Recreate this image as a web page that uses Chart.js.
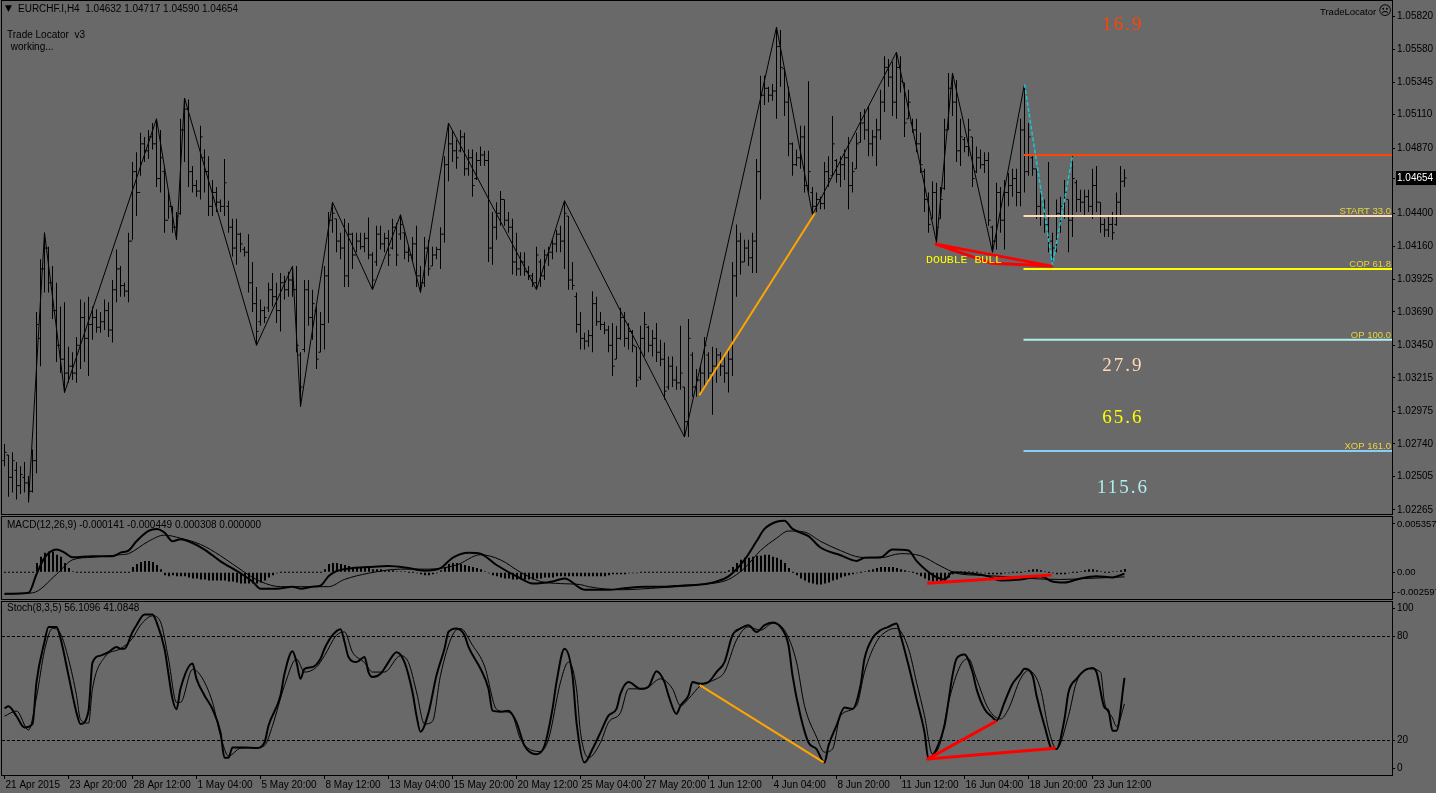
<!DOCTYPE html>
<html>
<head>
<meta charset="utf-8">
<title>EURCHF.I,H4</title>
<script src="https://cdn.jsdelivr.net/npm/chart.js@4.4.1/dist/chart.umd.min.js"></script>
<style>
    html, body { margin: 0; padding: 0; background: #696969; overflow: hidden; }
    #wrap { position: relative; width: 1436px; height: 793px; }
    canvas { position: absolute; left: 0; }
    #main { top: 0; }
    #macd { top: 515px; }
    #stoch { top: 600px; }
</style>
</head>
<body>
<div id="wrap">
    <canvas id="main" width="1436" height="516"></canvas>
    <canvas id="macd" width="1436" height="85"></canvas>
    <canvas id="stoch" width="1436" height="193"></canvas>
</div>
<script>
const symbol = 'EURCHF.I,H4';

const timeLabels = ['21 Apr 2015', '23 Apr 20:00', '28 Apr 12:00', '1 May 04:00', '5 May 20:00', '8 May 12:00',
    '13 May 04:00', '15 May 20:00', '20 May 12:00', '25 May 04:00', '27 May 20:00', '1 Jun 12:00',
    '4 Jun 04:00', '8 Jun 20:00', '11 Jun 12:00', '16 Jun 04:00', '18 Jun 20:00', '23 Jun 12:00'];
const timeLabelBars = [0, 16, 32, 48, 64, 80, 96, 112, 128, 144, 160, 176, 192, 208, 224, 240, 256, 272];

const barOpen = [1.0262,1.0266,1.0250,1.0255,1.0244,1.0250,1.0246,1.0240,1.0262,1.0350,
1.0400,1.0415,1.0390,1.0370,1.0345,1.0335,1.0325,1.0330,1.0325,1.0345,
1.0365,1.0350,1.0360,1.0365,1.0358,1.0362,1.0370,1.0356,1.0385,1.0400,
1.0388,1.0384,1.0420,1.0470,1.0455,1.0490,1.0485,1.0495,1.0490,1.0465,
1.0470,1.0435,1.0445,1.0430,1.0440,1.0500,1.0515,1.0470,1.0460,1.0456,
1.0480,1.0470,1.0445,1.0455,1.0448,1.0445,1.0445,1.0430,1.0415,1.0425,
1.0414,1.0412,1.0390,1.0375,1.0362,1.0370,1.0372,1.0385,1.0380,1.0370,
1.0390,1.0385,1.0392,1.0385,1.0338,1.0342,1.0385,1.0365,1.0370,1.0340,
1.0360,1.0395,1.0435,1.0436,1.0420,1.0415,1.0395,1.0425,1.0410,1.0420,
1.0416,1.0422,1.0410,1.0405,1.0425,1.0418,1.0422,1.0415,1.0430,1.0425,
1.0426,1.0412,1.0410,1.0418,1.0395,1.0390,1.0415,1.0402,1.0410,1.0414,
1.0425,1.0475,1.0490,1.0485,1.0485,1.0495,1.0472,1.0480,1.0465,1.0478,
1.0482,1.0478,1.0415,1.0430,1.0440,1.0450,1.0435,1.0430,1.0405,1.0400,
1.0405,1.0398,1.0395,1.0390,1.0405,1.0395,1.0410,1.0412,1.0418,1.0425,
1.0420,1.0438,1.0392,1.0380,1.0360,1.0350,1.0348,1.0352,1.0375,1.0362,
1.0360,1.0356,1.0345,1.0335,1.0350,1.0365,1.0350,1.0355,1.0344,1.0322,
1.0350,1.0358,1.0345,1.0350,1.0340,1.0335,1.0315,1.0330,1.0320,1.0318,
1.0315,1.0290,1.0338,1.0315,1.0320,1.0325,1.0338,1.0325,1.0330,1.0338,
1.0330,1.0325,1.0335,1.0395,1.0420,1.0405,1.0415,1.0408,1.0420,1.0470,
1.0525,1.0530,1.0525,1.0528,1.0560,1.0544,1.0520,1.0490,1.0475,1.0480,
1.0495,1.0460,1.0455,1.0445,1.0450,1.0447,1.0470,1.0467,1.0478,1.0468,
1.0475,1.0480,1.0460,1.0472,1.0491,1.0505,1.0500,1.0490,1.0495,1.0500,
1.0520,1.0545,1.0538,1.0520,1.0545,1.0534,1.0508,1.0505,1.0500,1.0490,
1.0470,1.0450,1.0436,1.0455,1.0436,1.0458,1.0500,1.0530,1.0520,1.0485,
1.0493,1.0488,1.0495,1.0470,1.0480,1.0475,1.0478,1.0430,1.0420,1.0455,
1.0435,1.0455,1.0460,1.0465,1.0455,1.0500,1.0470,1.0480,1.0472,1.0445,
1.0438,1.0432,1.0420,1.0415,1.0440,1.0445,1.0450,1.0435,1.0462,1.0450,
1.0448,1.0452,1.0445,1.0460,1.0448,1.0432,1.0428,1.0432,1.0432,1.0448,
1.04632];

const barHigh = [1.0274,1.0266,1.0268,1.0261,1.0258,1.0261,1.0251,1.0270,1.0369,1.0407,
1.0426,1.0416,1.0402,1.0390,1.0373,1.0376,1.0344,1.0340,1.0351,1.0378,
1.0376,1.0380,1.0373,1.0371,1.0369,1.0378,1.0376,1.0392,1.0414,1.0402,
1.0390,1.0426,1.0477,1.0484,1.0498,1.0495,1.0500,1.0505,1.0508,1.0500,
1.0474,1.0455,1.0445,1.0441,1.0508,1.0523,1.0522,1.0474,1.0464,1.0503,
1.0486,1.0481,1.0464,1.0459,1.0450,1.0479,1.0449,1.0436,1.0436,1.0426,
1.0416,1.0425,1.0405,1.0387,1.0378,1.0373,1.0390,1.0397,1.0390,1.0397,
1.0395,1.0398,1.0402,1.0402,1.0340,1.0392,1.0392,1.0385,1.0373,1.0369,
1.0402,1.0441,1.0448,1.0436,1.0426,1.0436,1.0433,1.0426,1.0426,1.0426,
1.0426,1.0437,1.0412,1.0431,1.0431,1.0426,1.0428,1.0436,1.0433,1.0439,
1.0426,1.0416,1.0423,1.0431,1.0402,1.0423,1.0421,1.0416,1.0416,1.0430,
1.0481,1.0505,1.0500,1.0493,1.0500,1.0498,1.0486,1.0486,1.0484,1.0488,
1.0485,1.0485,1.0441,1.0448,1.0456,1.0450,1.0441,1.0436,1.0426,1.0412,
1.0412,1.0402,1.0397,1.0416,1.0407,1.0414,1.0416,1.0421,1.0428,1.0431,
1.0449,1.0438,1.0405,1.0383,1.0369,1.0354,1.0356,1.0384,1.0380,1.0369,
1.0362,1.0359,1.0361,1.0359,1.0372,1.0369,1.0361,1.0356,1.0344,1.0359,
1.0369,1.0359,1.0356,1.0361,1.0349,1.0347,1.0337,1.0337,1.0330,1.0359,
1.0315,1.0364,1.0340,1.0328,1.0330,1.0351,1.0340,1.0344,1.0343,1.0340,
1.0337,1.0342,1.0405,1.0432,1.0426,1.0421,1.0421,1.0426,1.0479,1.0539,
1.0539,1.0531,1.0533,1.0574,1.0572,1.0544,1.0531,1.0491,1.0486,1.0503,
1.0503,1.0535,1.0459,1.0455,1.0452,1.0477,1.0481,1.0510,1.0479,1.0481,
1.0486,1.0495,1.0477,1.0498,1.0513,1.0515,1.0517,1.0500,1.0508,1.0529,
1.0553,1.0551,1.0549,1.0556,1.0553,1.0534,1.0529,1.0508,1.0508,1.0498,
1.0472,1.0455,1.0463,1.0462,1.0459,1.0508,1.0541,1.0541,1.0536,1.0508,
1.0495,1.0508,1.0495,1.0488,1.0486,1.0484,1.0484,1.0431,1.0462,1.0459,
1.0464,1.0469,1.0472,1.0472,1.0508,1.0533,1.0505,1.0481,1.0472,1.0455,
1.0450,1.0477,1.0426,1.0450,1.0452,1.0464,1.0450,1.0481,1.0464,1.0457,
1.0457,1.0457,1.0472,1.0474,1.0448,1.0436,1.0438,1.0441,1.0455,1.0474,
1.04717];

const barLow = [1.0258,1.0236,1.0239,1.0234,1.0238,1.0239,1.0232,1.0239,1.0253,1.0330,
1.0383,1.0383,1.0364,1.0333,1.0325,1.0311,1.0318,1.0320,1.0318,1.0328,
1.0333,1.0323,1.0349,1.0354,1.0354,1.0356,1.0351,1.0347,1.0376,1.0380,
1.0380,1.0376,1.0421,1.0438,1.0467,1.0477,1.0479,1.0486,1.0459,1.0455,
1.0426,1.0436,1.0426,1.0421,1.0439,1.0477,1.0459,1.0455,1.0452,1.0450,
1.0455,1.0438,1.0438,1.0441,1.0441,1.0438,1.0426,1.0409,1.0403,1.0412,
1.0409,1.0383,1.0369,1.0345,1.0359,1.0361,1.0369,1.0373,1.0361,1.0355,
1.0378,1.0380,1.0380,1.0340,1.0301,1.0340,1.0359,1.0349,1.0328,1.0340,
1.0342,1.0361,1.0426,1.0412,1.0407,1.0387,1.0387,1.0400,1.0412,1.0414,
1.0412,1.0407,1.0385,1.0402,1.0414,1.0412,1.0402,1.0414,1.0402,1.0421,
1.0407,1.0405,1.0405,1.0387,1.0383,1.0387,1.0395,1.0402,1.0407,1.0400,
1.0419,1.0463,1.0477,1.0472,1.0484,1.0467,1.0467,1.0452,1.0464,1.0474,
1.0474,1.0405,1.0403,1.0421,1.0431,1.0431,1.0426,1.0396,1.0395,1.0395,
1.0395,1.0392,1.0387,1.0385,1.0387,1.0392,1.0402,1.0407,1.0412,1.0412,
1.0400,1.0385,1.0385,1.0354,1.0342,1.0342,1.0344,1.0340,1.0359,1.0356,
1.0353,1.0340,1.0323,1.0335,1.0349,1.0344,1.0342,1.0340,1.0315,1.0320,
1.0337,1.0340,1.0337,1.0333,1.0330,1.0306,1.0313,1.0315,1.0313,1.0313,
1.0279,1.0279,1.0308,1.0308,1.0311,1.0315,1.0318,1.0295,1.0318,1.0323,
1.0318,1.0311,1.0323,1.0380,1.0396,1.0405,1.0402,1.0397,1.0397,1.0450,
1.0518,1.0520,1.0521,1.0508,1.0531,1.0510,1.0481,1.0467,1.0474,1.0472,
1.0455,1.0455,1.0439,1.0441,1.0443,1.0443,1.0459,1.0467,1.0462,1.0459,
1.0464,1.0443,1.0455,1.0472,1.0491,1.0493,1.0481,1.0481,1.0474,1.0493,
1.0513,1.0531,1.0510,1.0508,1.0527,1.0495,1.0508,1.0498,1.0484,1.0469,
1.0441,1.0426,1.0436,1.0419,1.0436,1.0457,1.0500,1.0510,1.0477,1.0474,
1.0484,1.0481,1.0459,1.0469,1.0472,1.0469,1.0431,1.0412,1.0414,1.0426,
1.0414,1.0445,1.0452,1.0445,1.0445,1.0455,1.0467,1.0467,1.0436,1.0431,
1.0426,1.0412,1.0403,1.0412,1.0426,1.0436,1.0412,1.0423,1.0441,1.0441,
1.0438,1.0441,1.0436,1.0441,1.0426,1.0423,1.0423,1.0421,1.0431,1.0438,
1.04590];

const barClose = [1.0268,1.0250,1.0262,1.0244,1.0252,1.0246,1.0240,1.0262,1.0360,1.0400,
1.0415,1.0390,1.0370,1.0345,1.0335,1.0325,1.0330,1.0325,1.0345,1.0365,
1.0350,1.0360,1.0365,1.0358,1.0362,1.0370,1.0356,1.0385,1.0400,1.0388,
1.0384,1.0420,1.0470,1.0455,1.0490,1.0485,1.0495,1.0490,1.0465,1.0480,
1.0435,1.0445,1.0430,1.0438,1.0500,1.0515,1.0470,1.0460,1.0456,1.0495,
1.0470,1.0445,1.0455,1.0448,1.0445,1.0462,1.0430,1.0415,1.0425,1.0418,
1.0412,1.0390,1.0375,1.0355,1.0370,1.0365,1.0385,1.0380,1.0370,1.0390,
1.0385,1.0392,1.0385,1.0345,1.0315,1.0385,1.0365,1.0375,1.0335,1.0360,
1.0395,1.0435,1.0440,1.0420,1.0415,1.0395,1.0425,1.0410,1.0420,1.0416,
1.0422,1.0410,1.0392,1.0425,1.0418,1.0422,1.0410,1.0430,1.0410,1.0432,
1.0412,1.0410,1.0418,1.0395,1.0390,1.0415,1.0400,1.0410,1.0414,1.0425,
1.0475,1.0490,1.0485,1.0480,1.0495,1.0472,1.0480,1.0460,1.0478,1.0482,
1.0478,1.0415,1.0430,1.0440,1.0450,1.0435,1.0430,1.0405,1.0400,1.0405,
1.0398,1.0395,1.0390,1.0410,1.0395,1.0410,1.0412,1.0418,1.0425,1.0420,
1.0440,1.0392,1.0388,1.0360,1.0350,1.0348,1.0352,1.0375,1.0362,1.0360,
1.0356,1.0345,1.0330,1.0350,1.0365,1.0350,1.0355,1.0345,1.0320,1.0350,
1.0360,1.0345,1.0350,1.0340,1.0335,1.0312,1.0330,1.0320,1.0318,1.0325,
1.0290,1.0350,1.0315,1.0320,1.0325,1.0345,1.0325,1.0330,1.0338,1.0330,
1.0325,1.0335,1.0395,1.0420,1.0405,1.0415,1.0408,1.0420,1.0470,1.0525,
1.0530,1.0525,1.0528,1.0560,1.0545,1.0520,1.0490,1.0475,1.0480,1.0495,
1.0460,1.0470,1.0445,1.0450,1.0447,1.0470,1.0465,1.0490,1.0468,1.0475,
1.0480,1.0460,1.0470,1.0490,1.0505,1.0500,1.0490,1.0495,1.0500,1.0520,
1.0545,1.0538,1.0520,1.0545,1.0535,1.0505,1.0520,1.0500,1.0490,1.0475,
1.0450,1.0432,1.0455,1.0430,1.0450,1.0500,1.0530,1.0520,1.0485,1.0495,
1.0488,1.0500,1.0465,1.0480,1.0475,1.0478,1.0435,1.0420,1.0455,1.0435,
1.0455,1.0460,1.0465,1.0455,1.0500,1.0470,1.0495,1.0472,1.0445,1.0438,
1.0432,1.0420,1.0415,1.0440,1.0445,1.0455,1.0435,1.0465,1.0450,1.0448,
1.0452,1.0445,1.0460,1.0448,1.0432,1.0428,1.0432,1.0426,1.0448,1.0463,
1.04654];

// swing points of the zigzag
const zigzagBars = [6, 10, 15, 38, 43, 45, 63, 72, 74, 82, 92, 99, 104, 111, 133, 140, 170, 193, 202, 223, 233, 237, 247, 255];
const zigzagPrices = [1.0232, 1.0426, 1.0311, 1.0508, 1.0421, 1.0523, 1.0345, 1.0402, 1.0301, 1.0448, 1.0385, 1.0439,
    1.0383, 1.0505, 1.0385, 1.0449, 1.0279, 1.0574, 1.0439, 1.0556, 1.0419, 1.0541, 1.0412, 1.0533];
const waveBars = [255, 262, 267];
const wavePrices = [1.0533, 1.0403, 1.0481];
const trendBars = [173.7, 202.6];
const trendPrices = [1.0309, 1.0440];
const bullBars = [232.6, 261.8, 246.8, 232.6];
const bullPrices = [1.0418, 1.0402, 1.0404, 1.0418];

const levelStartBar = 254.75;
const levelNames = ['', 'START 33.0', 'COP 61.8', 'OP 100.0', 'XOP 161.0'];
const levelPrices = [1.0482, 1.0438, 1.0400, 1.0349, 1.0269];
const statTexts = ['16.9', '27.9', '65.6', '115.6'];
const statPrices = [1.05755, 1.03301, 1.02927, 1.02424];

const priceTicks = [1.05820, 1.05580, 1.05345, 1.05110, 1.04870, 1.04654, 1.04400, 1.04160, 1.03925,
    1.03690, 1.03450, 1.03215, 1.02975, 1.02740, 1.02505, 1.02265];
const lastPrice = 1.04654;

const macdMainBars = [0,6,8,10,13,15,17,22,27,29,31,33,36,38,40,42,44,46,50,54,59,62,64,68,72,74,77,79,81,83,87,91,96,101,105,109,112,116,119,123,
    129,132,137,140,145,151,155,160,165,169,174,178,181,185,188,190,193,195,197,201,204,209,213,215,219,222,226,228,232,235,237,241,246,249,254,259,262,265,269,273,277,280];
const macdMainVals = [-0.0021,-0.0020,-0.0002,0.0014,0.0022,0.0019,0.00145,0.00155,0.00155,0.0019,0.0021,0.0030,0.0040,0.0042,0.00385,0.0030,0.0032,0.0030,0.0022,0.00106,
    -0.0001,-0.0009,-0.0016,-0.0016,-0.0014,-0.0016,-0.0014,-0.0013,-0.0004,0.0001,0.0004,0.0005,0.0006,0.0004,0.00015,0.0004,0.0014,0.0019,0.0018,0.0007,
    -0.0006,-0.0011,-0.0009,-0.0006,-0.0017,-0.0017,-0.00155,-0.0014,-0.0014,-0.0013,-0.0012,-0.0009,-0.0004,0.0012,0.0030,0.0042,0.0049,0.0050,0.0042,0.0035,
    0.0024,0.00165,0.0011,0.0014,0.00145,0.0022,0.0021,0.0011,-0.00025,-0.0007,0.0000,-0.0001,-0.0004,-0.0008,-0.0007,-0.0004,-0.0009,-0.0010,-0.0006,-0.0004,-0.0005,-0.000141];
const macdSignalBars = [0,7,13,17,22,29,31,36,40,44,49,54,60,64,69,74,81,85,91,99,106,113,119,124,129,134,139,144,146,154,164,174,181,185,189,193,196,200,204,209,214,219,224,229,234,238,244,249,256,264,271,280];
const macdSignalVals = [-0.0021,-0.0020,-0.0002,0.0012,0.00145,0.0017,0.0018,0.0030,0.0036,0.0033,0.0027,0.0016,0.0000,-0.0009,-0.0014,-0.0014,-0.0014,-0.0007,-0.0001,0.0003,
    0.0003,0.0007,0.0017,0.0012,0.0000,-0.0009,-0.0011,-0.0012,-0.0014,-0.0017,-0.0015,-0.0012,-0.0007,0.0004,0.0021,0.0033,0.0040,0.0039,0.0030,0.0021,
    0.00145,0.0014,0.0018,0.0016,0.0006,-0.0001,-0.0003,-0.0004,-0.0006,-0.0007,-0.0006,-0.000449];
const macdHist = [0,0,0,0,0,0,0,0,0.0009,0.0015,
0.0019,0.0020,0.0020,0.0017,0.0015,0.0009,0.0004,0.0001,0,0,
0,0,0,0,0,0,0,0,0,0,
0,0,0.0005,0.0008,0.0010,0.0011,0.0011,0.0010,0.0007,0.0003,
-0.0003,-0.0004,-0.0003,-0.0004,-0.0004,-0.0004,-0.0005,-0.0006,-0.0006,-0.0007,
-0.0007,-0.0008,-0.0008,-0.0008,-0.0008,-0.0008,-0.0009,-0.0009,-0.0010,-0.0011,
-0.0011,-0.0011,-0.0011,-0.0011,-0.0010,-0.0008,-0.0005,-0.0003,-0.0001,0,
0,0,0,0,0,0,0,0,0,0,
0.0003,0.0008,0.0009,0.0009,0.0008,0.0007,0.0006,0.0005,0.0005,0.0005,
0.0004,0.0004,0.0003,0.0003,0.0003,0.0002,0.0002,0.0002,0.0001,0.0001,
0.0001,0,0,-0.0001,-0.0002,-0.0003,-0.0003,-0.0002,-0.0001,0.0002,
0.0005,0.0008,0.0009,0.0009,0.0008,0.0007,0.0006,0.0005,0.0004,0.0003,
0.0001,-0.0001,-0.0003,-0.0004,-0.0005,-0.0006,-0.0006,-0.0007,-0.0007,-0.0007,
-0.0007,-0.0007,-0.0007,-0.0006,-0.0006,-0.0005,-0.0005,-0.0005,-0.0004,-0.0004,
-0.0004,-0.0004,-0.0004,-0.0004,-0.0004,-0.0004,-0.0004,-0.0004,-0.0004,-0.0004,
-0.0004,-0.0003,-0.0002,-0.0002,-0.0002,-0.0002,-0.0001,-0.0001,-0.0001,0,
0,0,0,0,0,0,0,0,0,0,
0,0,0,0,0,0,0,0,0,0,
0,0.0002,0.0005,0.0009,0.0012,0.0014,0.0014,0.0015,0.0016,0.0016,
0.0017,0.0017,0.0015,0.0014,0.0012,0.0009,0.0004,0,-0.0003,-0.0006,
-0.0008,-0.0010,-0.0011,-0.0012,-0.0012,-0.0011,-0.0010,-0.0008,-0.0007,-0.0005,
-0.0004,-0.0003,-0.0002,-0.0001,0,0.0001,0.0002,0.0003,0.0004,0.0005,
0.0005,0.0005,0.0005,0.0004,0.0003,0.0002,0.0001,0,-0.0002,-0.0004,
-0.0006,-0.0008,-0.0009,-0.0009,-0.0009,-0.0008,-0.0005,-0.0002,0,0.0001,
0.0001,0.0001,0,0,-0.0001,-0.0001,-0.0002,-0.0002,-0.0002,-0.0002,
-0.0001,-0.0001,0,0,0,0.0001,0.0002,0.0003,0.0003,0.0002,
0.0001,0,-0.0001,-0.0002,-0.0002,-0.0002,-0.0001,0,0,0.0001,
0.0002,0.0003,0.0003,0.0002,0.0001,0,0,0.0001,0.0001,0.0002,
0.000308];
const macdDivBars = [230.7, 261.75];
const macdDivVals = [-0.00107, -0.00027];
const macdMax = 0.005357;
const macdMin = -0.002597;

const stochMainBars = [0,1,3,5,7,8,10,11,13,14,16,18,19,21,22,24,26,28,29,30,32,33,35,37,38,40,42,43,44,47,
    48,50,52,54,55,56,57,60,63,65,66,69,70,72,73,74,75,77,79,80,82,84,85,86,88,90,91,92,94,96,
    98,100,102,103,104,106,108,110,111,113,115,116,119,121,122,124,126,128,130,133,135,137,138,140,142,143,145,147,149,151,
    153,154,156,159,161,163,165,166,168,169,171,172,174,176,178,180,182,184,186,188,190,192,194,196,197,199,201,203,205,206,
    208,210,212,214,215,217,219,221,223,224,226,228,230,231,233,235,237,238,240,242,243,245,247,248,250,252,254,255,257,258,
    260,262,263,265,266,268,270,272,273,275,276,277,278,280];
const stochMainVals = [38.5,39.7,34,27.5,29.6,53.7,77,85.6,85.6,79,57.6,36,29.5,37,65,69,71,74,73,73,82.7,86.6,92.8,92.8,88.5,73,44,38,49.8,64.4,
    55.6,46,38,24.6,10,10,15.9,15.9,15.6,18.8,28.5,46,58.5,71.5,65.3,55.6,61.4,62.4,67.2,73,80.8,84.3,77,68.2,65.3,68.2,59.5,56.6,58.5,65.3,
    71,65.3,47.8,34.3,25,36,57.6,73,82.7,84.7,80.8,74,61.4,49.8,37.2,36.6,37.2,30.4,16.9,12,16.9,38.2,53.7,73,57.6,30.4,7.2,15,24.6,34.3,
    38.2,47,53.7,49.8,51,60,53.7,46,35.3,40,46,53.7,52.7,53.7,59.5,65.3,80.8,84.7,86.6,82.7,86.6,88.2,85.6,75,57.6,34.3,18.8,15,7.2,17,
    28.5,39,38.2,51.7,67.2,79,83.7,85.6,87.6,80.8,63.4,44,24.6,9.1,15,28.5,57.6,67.2,69.6,59.5,49.8,38.2,33.3,31.4,42,52.7,58.5,61.4,57.6,46,
    28.5,15,15,32.4,47.8,55.6,60.4,61.8,59.5,39,37.2,25.6,25.6,56.1];
const stochSignalBars = [0,3,6,8,10,12,14,16,18,19,21,22,25,29,32,34,37,39,41,43,44,47,49,52,54,56,59,63,65,67,
    70,73,75,78,80,83,85,87,90,92,95,99,101,103,105,107,109,112,114,117,120,123,125,127,129,134,136,139,141,143,
    144,146,149,151,154,156,160,164,167,169,171,174,178,180,183,186,189,192,195,198,200,203,205,207,209,213,215,218,221,223,
    226,228,230,232,234,236,239,241,243,246,249,251,254,256,259,261,263,266,268,271,274,275,277,278,280];
const stochSignalVals = [34,37,26,45,72,84.7,81.7,67,46,32,30,50,68,73,79,86.6,92,88.5,67,42,42,61,57.6,42,22.7,11,15.5,15.9,17,28.5,
    51.7,67,59.5,62.4,69,80.8,82.7,71,65,59.5,59.5,69,65,48,29.5,31,57.6,80.8,84.7,75,63,38,36.6,34.3,20.7,13.6,20.7,53.7,65.3,49.8,
    24.6,10,18.8,30.4,36,49.8,49.8,55.6,49.8,40,44,51.7,55.6,59.5,78,85.6,83.7,87.6,83.7,65.3,40,22,13.2,15,34.3,40,59.5,77,83.7,84.7,
    73,53.7,34.3,12,18.8,42,63.4,67.2,55.6,38.2,32.4,38.2,55.6,60.4,49.8,26.6,15,34.3,53.7,61.4,59.5,42,33,28,41.1];
const stochTrendBars = [173.8, 204.8];
const stochTrendVals = [52, 7.3];
const stochDivBars = [248, 230.75, 262.75];
const stochDivVals = [31.2, 9.2, 15.4];

const X_MIN = -0.625;
const X_MAX = 346.875;
const PRICE_MIN = 1.02236;
const PRICE_MAX = 1.05928;
const FONT = 'Liberation Sans';
const INK = '#000000';
const LEVEL_COLORS = ['#ff4500', '#ffdab9', '#ffff00', '#afeeee', '#87cefa'];
const STAT_COLORS = ['#ff4500', '#ffdab9', '#ffff00', '#afeeee'];
const LABEL_GOLD = '#e8d43a';

Chart.defaults.font.family = FONT;
Chart.defaults.font.size = 10;
Chart.defaults.color = INK;

function pairs(xs, ys) {
    return xs.map((x, i) => ({ x: x, y: ys[i] }));
}

function noScalePadding(scale) {
    scale.paddingTop = 0;
    scale.paddingBottom = 0;
    scale.paddingLeft = 0;
    scale.paddingRight = 0;
}

function hiddenX() {
    return {
        type: 'linear', min: X_MIN, max: X_MAX, offset: false, display: false, grid: { offset: false },
        afterFit: noScalePadding
    };
}

function rightAxis(min, max, tickValues, labelFn, fontSize) {
    return {
        type: 'linear',
        position: 'right',
        min: min,
        max: max,
        afterFit: function(scale) { scale.width = 44; noScalePadding(scale); },
        afterBuildTicks: function(scale) { scale.ticks = tickValues.map(v => ({ value: v })); },
        grid: { drawOnChartArea: false, drawTicks: true, tickLength: 3, color: INK, tickColor: INK },
        border: { display: false },
        ticks: { padding: 2, autoSkip: false, color: INK, font: { family: FONT, size: fontSize || 10 }, callback: labelFn }
    };
}

const framePlugin = {
    id: 'frame',
    afterDraw(chart) {
        const { ctx, chartArea: a } = chart;
        ctx.save();
        ctx.strokeStyle = INK;
        ctx.lineWidth = 1;
        ctx.strokeRect(a.left - 0.5, a.top - 0.5, a.right - a.left + 1, a.bottom - a.top + 1);
        ctx.restore();
    }
};

const mainText = {
    id: 'mainText',
    afterDatasetsDraw(chart) {
        const { ctx, chartArea: a, scales } = chart;
        const last = barClose.length - 1;
        ctx.save();
        ctx.fillStyle = INK;
        ctx.textBaseline = 'middle';
        ctx.font = '9px "DejaVu Sans"';
        ctx.fillText('\u25BC', 5, 9);
        ctx.font = '10px "' + FONT + '"';
        const ohlc = [barOpen[last], barHigh[last], barLow[last], barClose[last]].map(v => v.toFixed(5)).join(' ');
        ctx.fillText(symbol + '  ' + ohlc, 18, 9);
        ctx.fillText('Trade Locator  v3', 7, 35);
        ctx.fillText(' working...', 8, 47);
        ctx.font = '9.5px "' + FONT + '"';
        ctx.fillText('TradeLocator', 1320, 12);
        const w = ctx.measureText('TradeLocator').width;
        ctx.font = '13px "DejaVu Sans"';
        ctx.fillText('\u2639', 1320 + w + 2, 12);

        ctx.font = '9.5px "' + FONT + '"';
        ctx.textAlign = 'right';
        ctx.textBaseline = 'alphabetic';
        ctx.fillStyle = LABEL_GOLD;
        levelNames.forEach((name, k) => {
            if (name) ctx.fillText(name, a.right - 1, scales.y.getPixelForValue(levelPrices[k]) - 2);
        });

        ctx.textAlign = 'center';
        ctx.textBaseline = 'middle';
        ctx.font = '19px "Liberation Serif"';
        ctx.letterSpacing = '2px';
        statTexts.forEach((t, k) => {
            ctx.fillStyle = STAT_COLORS[k];
            ctx.fillText(t, scales.x.getPixelForValue(279.6), scales.y.getPixelForValue(statPrices[k]));
        });
        ctx.letterSpacing = '0px';

        ctx.textAlign = 'left';
        ctx.font = '11.5px "Liberation Mono"';
        ctx.fillStyle = '#ffff00';
        ctx.fillText('DOUBLE BULL', scales.x.getPixelForValue(230.4), scales.y.getPixelForValue(1.04064));
        ctx.restore();
    }
};

function panelTitle(text, y) {
    return {
        id: 'panelTitle',
        afterDatasetsDraw(chart) {
            const ctx = chart.ctx;
            ctx.save();
            ctx.fillStyle = INK;
            ctx.font = '10px "' + FONT + '"';
            ctx.textBaseline = 'middle';
            ctx.fillText(text, 7, y);
            ctx.restore();
        }
    };
}

const lineStyle = { pointRadius: 0, fill: false, borderJoinStyle: 'round' };

const baseOptions = {
    responsive: false,
    devicePixelRatio: 1,
    animation: false,
    events: [],
    plugins: { legend: { display: false }, tooltip: { enabled: false } }
};

// price panel
const levelSets = levelPrices.map((p, k) => Object.assign({
    type: 'line',
    data: [{ x: levelStartBar, y: p }, { x: X_MAX, y: p }],
    borderColor: LEVEL_COLORS[k],
    borderWidth: 2
}, lineStyle));

new Chart(document.getElementById('main'), {
    type: 'bar',
    data: {
        datasets: [
            Object.assign({ type: 'line', data: pairs(bullBars, bullPrices), borderColor: '#ff0000', borderWidth: 3 }, lineStyle),
            Object.assign({ type: 'line', data: pairs(trendBars, trendPrices), borderColor: '#ffa500', borderWidth: 2 }, lineStyle),
            Object.assign({ type: 'line', data: pairs(waveBars, wavePrices), borderColor: '#16c8d8', borderWidth: 1.5, borderDash: [4, 2] }, lineStyle),
            ...levelSets,
            Object.assign({ type: 'line', data: pairs(zigzagBars, zigzagPrices), borderColor: INK, borderWidth: 1 }, lineStyle),
            {
                type: 'scatter',
                data: barOpen.map((v, i) => ({ x: i - 0.3, y: v })),
                pointStyle: 'line', radius: 0.9, borderColor: INK, borderWidth: 1
            },
            {
                type: 'scatter',
                data: barClose.map((v, i) => ({ x: i + 0.3, y: v })),
                pointStyle: 'line', radius: 0.9, borderColor: INK, borderWidth: 1
            },
            {
                type: 'bar',
                data: barHigh.map((h, i) => ({ x: i, y: [barLow[i], h] })),
                backgroundColor: INK,
                borderWidth: 0,
                barThickness: 1,
                inflateAmount: 0,
                grouped: false
            }
        ]
    },
    options: Object.assign({}, baseOptions, {
        layout: { autoPadding: false, padding: { left: 2, top: 1, right: 0, bottom: 2 } },
        scales: {
            x: hiddenX(),
            y: Object.assign(rightAxis(PRICE_MIN, PRICE_MAX, priceTicks, v => Number(v).toFixed(5)), {
                ticks: {
                    padding: 2, autoSkip: false, font: { family: FONT, size: 10 },
                    callback: v => Number(v).toFixed(5),
                    color: c => (c.tick && c.tick.value === lastPrice ? '#ffffff' : INK),
                    showLabelBackdrop: c => !!(c.tick && c.tick.value === lastPrice),
                    backdropColor: '#000000',
                    backdropPadding: { top: 1, bottom: 1, left: 1, right: 6 }
                }
            })
        }
    }),
    plugins: [mainText, framePlugin]
});

// MACD panel
const macdTickAt = [0.00468, 0, -0.00199];
const macdTickText = [macdMax.toFixed(6), '0.00', macdMin.toFixed(6)];

new Chart(document.getElementById('macd'), {
    type: 'bar',
    data: {
        datasets: [
            Object.assign({ type: 'line', data: pairs(macdDivBars, macdDivVals), borderColor: '#ff0000', borderWidth: 3 }, lineStyle),
            Object.assign({ type: 'line', data: pairs(macdMainBars, macdMainVals), borderColor: INK, borderWidth: 2, cubicInterpolationMode: 'monotone' }, lineStyle),
            Object.assign({ type: 'line', data: pairs(macdSignalBars, macdSignalVals), borderColor: INK, borderWidth: 1, cubicInterpolationMode: 'monotone' }, lineStyle),
            {
                type: 'bar',
                data: macdHist.map((v, i) => ({ x: i + 0.125, y: v })),
                backgroundColor: INK,
                borderWidth: 0,
                barThickness: 2,
                minBarLength: 1,
                inflateAmount: 0,
                grouped: false
            }
        ]
    },
    options: Object.assign({}, baseOptions, {
        layout: { autoPadding: false, padding: { left: 2, top: 2, right: 0, bottom: 1 } },
        scales: {
            x: hiddenX(),
            y: rightAxis(macdMin, macdMax, macdTickAt, (v, i) => macdTickText[i], 9.5)
        }
    }),
    plugins: [panelTitle('MACD(12,26,9) -0.000141 -0.000449 0.000308 0.000000', 10), framePlugin]
});

// Stochastic panel
const stochTickAt = [96.5, 80, 20, 4];
const stochTickText = ['100', '80', '20', '0'];
const stochY = rightAxis(0, 100, stochTickAt, (v, i) => stochTickText[i]);
stochY.grid = {
    drawOnChartArea: true, drawTicks: true, tickLength: 3, tickColor: INK,
    color: c => (c.tick && (c.tick.value === 80 || c.tick.value === 20) ? INK : 'rgba(0,0,0,0)')
};
stochY.border = { display: false, dash: [3, 2] };

new Chart(document.getElementById('stoch'), {
    type: 'line',
    data: {
        datasets: [
            Object.assign({ data: pairs(stochDivBars, stochDivVals), borderColor: '#ff0000', borderWidth: 3 }, lineStyle),
            Object.assign({ data: pairs(stochTrendBars, stochTrendVals), borderColor: '#ffa500', borderWidth: 2 }, lineStyle),
            Object.assign({ data: pairs(stochMainBars, stochMainVals), borderColor: INK, borderWidth: 2, cubicInterpolationMode: 'monotone' }, lineStyle),
            Object.assign({ data: pairs(stochSignalBars, stochSignalVals), borderColor: INK, borderWidth: 1, cubicInterpolationMode: 'monotone' }, lineStyle)
        ]
    },
    options: Object.assign({}, baseOptions, {
        layout: { autoPadding: false, padding: { left: 2, top: 2, right: 0, bottom: 0 } },
        scales: {
            x: {
                type: 'linear',
                min: X_MIN,
                max: X_MAX,
                offset: false,
                position: 'bottom',
                afterFit: function(scale) { scale.height = 18; noScalePadding(scale); },
                afterBuildTicks: function(scale) { scale.ticks = timeLabelBars.map(v => ({ value: v })); },
                grid: { drawOnChartArea: false, drawTicks: true, tickLength: 4, color: INK, tickColor: INK },
                border: { display: false },
                ticks: {
                    align: 'start', labelOffset: 1, padding: 0, maxRotation: 0, autoSkip: false,
                    color: INK, font: { family: FONT, size: 10 },
                    callback: (v, i) => timeLabels[i]
                }
            },
            y: stochY
        }
    }),
    plugins: [panelTitle('Stoch(8,3,5) 56.1096 41.0848', 8), framePlugin]
});
</script>
</body>
</html>
